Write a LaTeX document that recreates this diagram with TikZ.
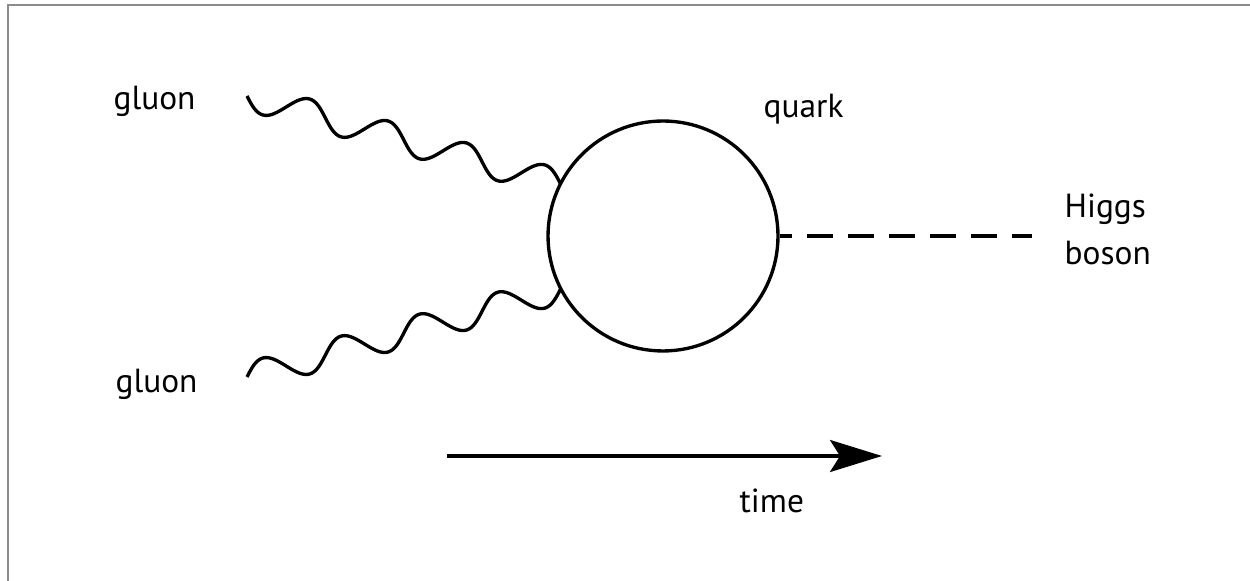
\documentclass[tikz,border=0pt]{standalone}
\usepackage{fontspec}
\setmainfont{PT Sans}
\usetikzlibrary{arrows.meta}
\definecolor{framegray}{HTML}{8C8C8C}

\begin{document}
\begin{tikzpicture}[x=0.02cm, y=0.02cm, line width=1.9pt,
    lbl/.style={font=\fontsize{19}{27}\selectfont, inner sep=0pt},
    wave/.style={smooth, samples=160, domain=0:325.6}]
    \useasboundingbox (0,0) rectangle (1250,581);
    % frame
    \draw[framegray, line width=1.2pt] (8,0) -- (8,576) -- (1250,576);

    % Quark loop
    \node[circle, draw, minimum size=4.6cm, inner sep=0pt] (loop) at (663,345) {};
    \node[lbl, anchor=base west] (quark) at (762,463) {quark};

    % Gluons (four periods each, ending on the loop)
    \coordinate (g1) at (247,485);
    \coordinate (g2) at (247,204);
    \node[lbl, anchor=base west] (gl1) at (112,471) {gluon};
    \node[lbl, anchor=base west] (gl2) at (114,188) {gluon};
    \draw[shift={(g1)}, rotate=-15.65] plot[wave] (\x, {-14*sin(\x/81.4*360)});
    \draw[shift={(g2)}, rotate=15.65] plot[wave] (\x, {14*sin(\x/81.4*360)});

    % Higgs
    \coordinate (h) at (1032,345);
    \draw[dash pattern=on 0.52cm off 0.30cm, dash phase=0.28cm] (loop.east) -- (h);
    \node[lbl, anchor=north west, align=left] (higgs) at (1063,389) {Higgs\\boson};

    % time arrow
    \coordinate (t0) at (447,125);
    \coordinate (t1) at (882,125);
    \draw[-{Stealth[length=1.04cm, width=0.64cm, inset=0.2cm]}] (t0) -- (t1);
    \node[lbl, anchor=base west] (time) at (738,68) {time};
\end{tikzpicture}
\end{document}
